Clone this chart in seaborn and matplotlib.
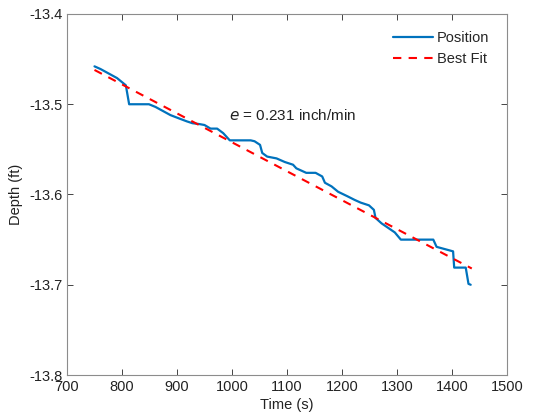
import numpy as np
import pandas as pd
import matplotlib
matplotlib.use('Agg')
import matplotlib.pyplot as plt
import seaborn as sns

# position trace
zaman = [750, 761, 773, 791, 799, 807, 813, 849, 861, 870, 888, 905, 918, 928,
         941, 950, 961, 973, 984, 996, 1034, 1041, 1051, 1055, 1064, 1081, 1096,
         1111, 1117, 1135, 1152, 1164, 1169, 1181, 1193, 1210, 1223, 1234, 1249,
         1258, 1261, 1272, 1284, 1296, 1307, 1366, 1372, 1390, 1402, 1404, 1425,
         1430, 1434]
derinlik = [-13.458, -13.461, -13.465, -13.471, -13.475, -13.479, -13.500, -13.500,
            -13.503, -13.506, -13.512, -13.516, -13.519, -13.521, -13.522, -13.523,
            -13.527, -13.527, -13.532, -13.540, -13.540, -13.541, -13.545, -13.554,
            -13.558, -13.560, -13.564, -13.567, -13.571, -13.576, -13.576, -13.580,
            -13.587, -13.591, -13.597, -13.602, -13.606, -13.609, -13.612, -13.617,
            -13.626, -13.632, -13.637, -13.642, -13.650, -13.650, -13.658, -13.661,
            -13.663, -13.681, -13.681, -13.699, -13.700]

# best fit end points
fit_zaman = [750, 1436]
fit_derinlik = [-13.462, -13.682]

x_ticks = [700, 800, 900, 1000, 1100, 1200, 1300, 1400, 1500]
y_ticks = [-13.8, -13.7, -13.6, -13.5, -13.4]

sns.set_style('white')
plt.rcParams['font.family'] = ['Liberation Sans', 'DejaVu Sans']

df = pd.DataFrame({'Zaman': zaman, 'Derinlik': derinlik})
df_fit = pd.DataFrame({'Zaman': fit_zaman, 'Derinlik': fit_derinlik})

fig = plt.figure(figsize=(5.42, 4.19), dpi=100)
ax = fig.add_axes([0.1236, 0.105, 0.8118, 0.8616])

sns.lineplot(data=df, x='Zaman', y='Derinlik', sort=False, estimator=None,
             color='#0072BD', linewidth=1.6, label='Position', ax=ax)
sns.lineplot(data=df_fit, x='Zaman', y='Derinlik', sort=False, estimator=None,
             color='#FF0000', linewidth=1.5, linestyle=(0, (4, 3.5)), label='Best Fit', ax=ax)

ax.text(995, -13.513, r'$e$ = 0.231 inch/min', fontsize=11, va='center', ha='left',
        color='#222222')

ax.set_xlim(700, 1500)
ax.set_ylim(-13.8, -13.4)
ax.set_xticks(x_ticks)
ax.set_yticks(y_ticks)
ax.set_yticklabels([f'{v:.1f}' for v in y_ticks])
ax.set_xlabel('Time (s)', fontsize=10.5, color='#222222', labelpad=3)
ax.set_ylabel('Depth (ft)', fontsize=10.5, color='#222222', labelpad=4)
ax.tick_params(direction='in', length=4, width=0.7, colors='#444444',
               labelsize=10.5, labelcolor='#222222', top=True, right=True,
               bottom=True, left=True)
for s in ax.spines.values():
    s.set_color('#8c8c8c')
    s.set_linewidth(0.8)

ax.legend(loc='upper right', frameon=False, fontsize=10.5, handlelength=2.7,
          handletextpad=0.3, borderaxespad=0.8, labelspacing=0.45)

fig.savefig('out.png', dpi=100)
